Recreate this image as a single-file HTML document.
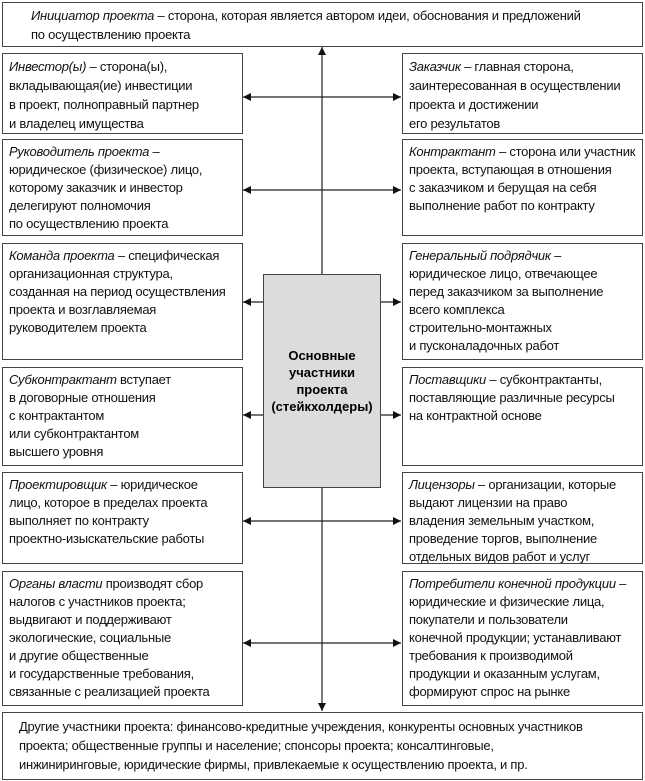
<!DOCTYPE html>
<html><head><meta charset="utf-8"><style>
body{margin:0;width:645px;height:781px;background:#fff;position:relative;overflow:hidden;font-family:"Liberation Sans","DejaVu Sans",sans-serif;}
.b{position:absolute;box-sizing:border-box;border:1px solid #444;background:#fff;font-size:13px;line-height:18px;letter-spacing:-0.25px;color:#111;padding:3px 6px;white-space:nowrap;overflow:hidden;}
i{font-style:italic}
.c{position:absolute;left:263px;top:274px;width:118px;height:214px;box-sizing:border-box;border:1px solid #444;background:#dcdcdc;font-weight:bold;font-size:13px;line-height:17px;text-align:center;display:flex;align-items:center;justify-content:center;}
svg{position:absolute;left:0;top:0}
</style></head><body>
<svg width="645" height="781">
<defs><marker id="a" markerWidth="8" markerHeight="8" refX="8" refY="4" orient="auto" markerUnits="userSpaceOnUse"><path d="M0,0 L8,4 L0,8 z" fill="#111"/></marker></defs>
<g stroke="#222" stroke-width="1.2">
<line x1="322" y1="274" x2="322" y2="47" marker-end="url(#a)"/>
<line x1="322" y1="488" x2="322" y2="711" marker-end="url(#a)"/>
<line x1="322" y1="97" x2="243" y2="97" marker-end="url(#a)"/>
<line x1="322" y1="97" x2="401" y2="97" marker-end="url(#a)"/>
<line x1="322" y1="190" x2="243" y2="190" marker-end="url(#a)"/>
<line x1="322" y1="190" x2="401" y2="190" marker-end="url(#a)"/>
<line x1="263" y1="302" x2="243" y2="302" marker-end="url(#a)"/>
<line x1="381" y1="302" x2="401" y2="302" marker-end="url(#a)"/>
<line x1="263" y1="415" x2="243" y2="415" marker-end="url(#a)"/>
<line x1="381" y1="415" x2="401" y2="415" marker-end="url(#a)"/>
<line x1="322" y1="521" x2="243" y2="521" marker-end="url(#a)"/>
<line x1="322" y1="521" x2="401" y2="521" marker-end="url(#a)"/>
<line x1="322" y1="643" x2="243" y2="643" marker-end="url(#a)"/>
<line x1="322" y1="643" x2="401" y2="643" marker-end="url(#a)"/>
</g></svg>
<div class="b" style="left:2px;top:2px;width:641px;height:45px;padding-left:28px;line-height:19px"><i>Инициатор проекта</i> – сторона, которая является автором идеи, обоснования и предложений<br>по осуществлению проекта</div>
<div class="b" style="left:2px;top:53px;width:241px;height:81px;line-height:19px"><i>Инвестор(ы)</i> – сторона(ы),<br>вкладывающая(ие) инвестиции<br>в проект, полноправный партнер<br>и владелец имущества</div>
<div class="b" style="left:402px;top:53px;width:241px;height:81px;line-height:19px"><i>Заказчик</i> – главная сторона,<br>заинтересованная в осуществлении<br>проекта и достижении<br>его результатов</div>
<div class="b" style="left:2px;top:139px;width:241px;height:97px"><i>Руководитель проекта</i> –<br>юридическое (физическое) лицо,<br>которому заказчик и инвестор<br>делегируют полномочия<br>по осуществлению проекта</div>
<div class="b" style="left:402px;top:139px;width:241px;height:97px"><i>Контрактант</i> – сторона или участник<br>проекта, вступающая в отношения<br>с заказчиком и берущая на себя<br>выполнение работ по контракту</div>
<div class="b" style="left:2px;top:243px;width:241px;height:117px"><i>Команда проекта</i> – специфическая<br>организационная структура,<br>созданная на период осуществления<br>проекта и возглавляемая<br>руководителем проекта</div>
<div class="b" style="left:402px;top:243px;width:241px;height:117px"><i>Генеральный подрядчик</i> –<br>юридическое лицо, отвечающее<br>перед заказчиком за выполнение<br>всего комплекса<br>строительно-монтажных<br>и пусконаладочных работ</div>
<div class="b" style="left:2px;top:367px;width:241px;height:99px"><i>Субконтрактант</i> вступает<br>в договорные отношения<br>с контрактантом<br>или субконтрактантом<br>высшего уровня</div>
<div class="b" style="left:402px;top:367px;width:241px;height:99px"><i>Поставщики</i> – субконтрактанты,<br>поставляющие различные ресурсы<br>на контрактной основе</div>
<div class="b" style="left:2px;top:472px;width:241px;height:92px"><i>Проектировщик</i> – юридическое<br>лицо, которое в пределах проекта<br>выполняет по контракту<br>проектно-изыскательские работы</div>
<div class="b" style="left:402px;top:472px;width:241px;height:92px"><i>Лицензоры</i> – организации, которые<br>выдают лицензии на право<br>владения земельным участком,<br>проведение торгов, выполнение<br>отдельных видов работ и услуг</div>
<div class="b" style="left:2px;top:571px;width:241px;height:135px"><i>Органы власти</i> производят сбор<br>налогов с участников проекта;<br>выдвигают и поддерживают<br>экологические, социальные<br>и другие общественные<br>и государственные требования,<br>связанные с реализацией проекта</div>
<div class="b" style="left:402px;top:571px;width:241px;height:135px"><i>Потребители конечной продукции</i> –<br>юридические и физические лица,<br>покупатели и пользователи<br>конечной продукции; устанавливают<br>требования к производимой<br>продукции и оказанным услугам,<br>формируют спрос на рынке</div>
<div class="b" style="left:2px;top:712px;width:641px;height:68px;padding-left:16px;padding-top:4px;line-height:19px">Другие участники проекта: финансово-кредитные учреждения, конкуренты основных участников<br>проекта; общественные группы и население; спонсоры проекта; консалтинговые,<br>инжиниринговые, юридические фирмы, привлекаемые к осуществлению проекта, и пр.</div>
<div class="c">Основные<br>участники<br>проекта<br>(стейкхолдеры)</div>
</body></html>
